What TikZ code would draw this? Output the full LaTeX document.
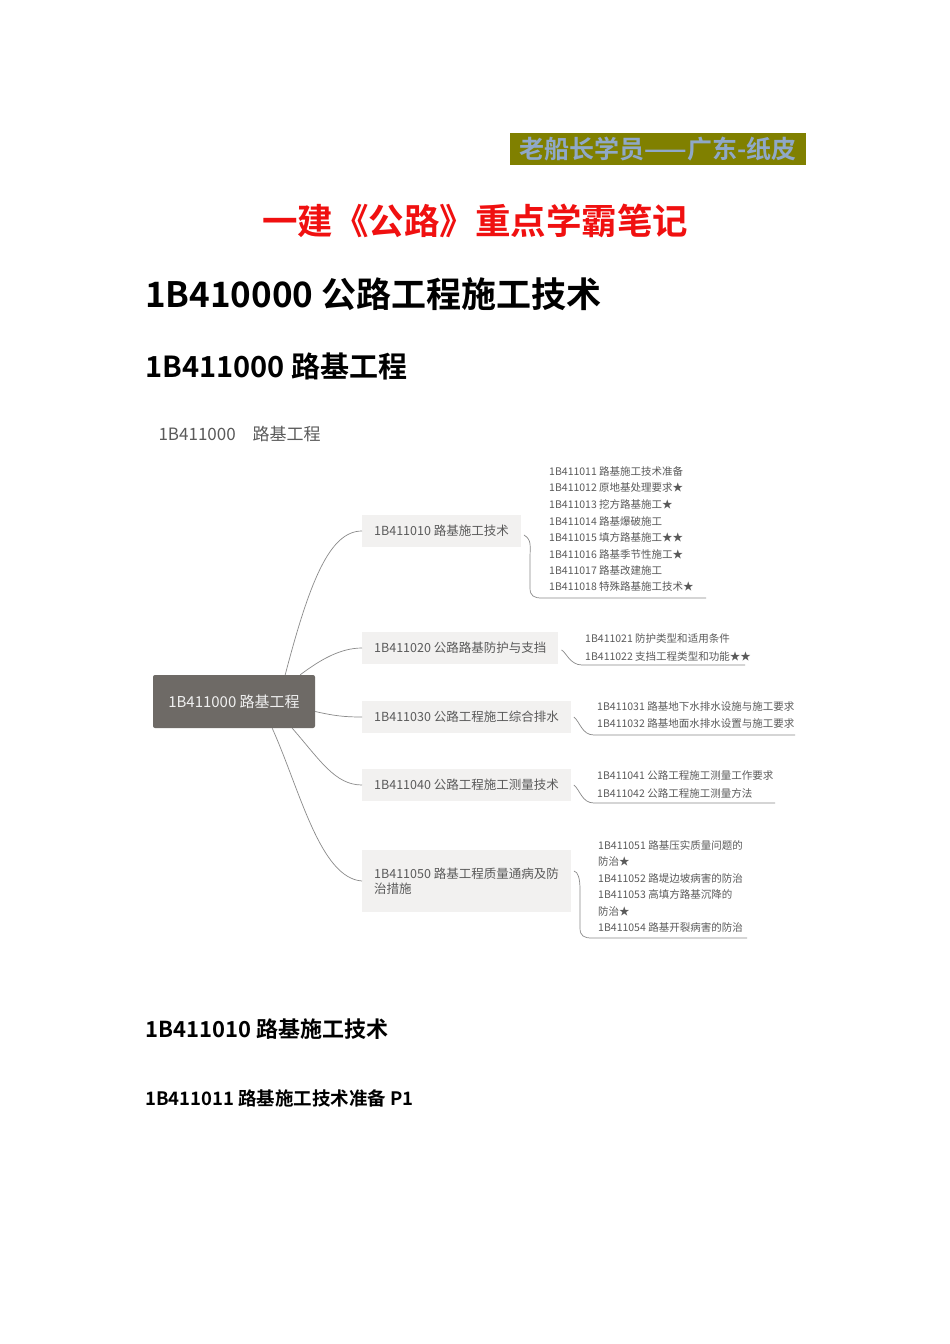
\documentclass[tikz,border=0pt]{standalone}
\usepackage{fontspec}
\setmainfont{Noto Sans CJK SC}
\newfontfamily\cjkb{Noto Sans CJK SC Bold}
\definecolor{olivebg}{HTML}{808000}
\definecolor{hdrtxt}{HTML}{8FA8C8}
\definecolor{titred}{HTML}{F01010}
\definecolor{ctr}{HTML}{6E6A66}
\definecolor{brbg}{HTML}{F2F1F0}
\definecolor{txtg}{HTML}{5A5A5A}
\definecolor{lineg}{HTML}{8A8A8A}
\begin{document}
\begin{tikzpicture}[x=1pt,y=-1pt,
  br/.style={fill=brbg,anchor=west,font=\fontsize{12.5}{15}\selectfont,text=txtg,inner xsep=12pt,minimum height=32pt,align=left},
  leaf/.style={anchor=west,font=\fontsize{10.5}{12}\selectfont,text=txtg,inner sep=0pt},
  conn/.style={draw=lineg,line width=0.7pt},
  heading/.style={anchor=west,font=\cjkb,inner sep=0pt}]
\useasboundingbox[fill=white] (0,0) rectangle (950,1344);
\node[fill=olivebg,text=hdrtxt,font=\cjkb\fontsize{25}{26}\selectfont,inner sep=1pt,minimum width=296pt,minimum height=32pt] (hdr) at (658,149) {老船长学员——广东-纸皮};
\node[text=titred,font=\cjkb\fontsize{35.5}{38}\selectfont] (title) at (475,221) {一建《公路》重点学霸笔记};
\node[heading,font=\cjkb\fontsize{35}{38}\selectfont] (h1) at (145,294) {1B410000 公路工程施工技术};
\node[heading,font=\cjkb\fontsize{29}{32}\selectfont] (h2) at (145,366) {1B411000 路基工程};
\node[anchor=west,text=txtg,font=\fontsize{17}{19}\selectfont] (mt) at (155,434) {1B411000\quad 路基工程};
\node[fill=ctr,text=white!90!ctr,rounded corners=2pt,minimum width=162pt,minimum height=53pt,font=\fontsize{15}{17}\selectfont] (c) at (234,701.5) {1B411000 路基工程};
\node[br,minimum width=158pt] (b1) at (362,531) {1B411010 路基施工技术};
\node[br,minimum width=195pt] (b2) at (362,648) {1B411020 公路路基防护与支挡};
\node[br,minimum width=208pt] (b3) at (362,717) {1B411030 公路工程施工综合排水};
\node[br,minimum width=208pt] (b4) at (362,785) {1B411040 公路工程施工测量技术};
\node[br,minimum width=208pt,minimum height=62pt] (b5) at (362,881) {1B411050 路基工程质量通病及防\\治措施};
\draw[conn] (c.north east)++(-30,0) coordinate (s1) .. controls (310,580) and (330,531) .. (b1.west);
\draw[conn] (c.north east)++(-15,0) coordinate (s2) .. controls (320,660) and (340,648) .. (b2.west);
\draw[conn] (c.east)++(0,10) coordinate (s3) .. controls (335,716) and (345,717) .. (b3.west);
\draw[conn] (c.south east)++(-23,0) coordinate (s4) .. controls (320,760) and (335,785) .. (b4.west);
\draw[conn] (c.south east)++(-43,0) coordinate (s5) .. controls (300,790) and (320,878) .. (b5.west);
\foreach \t [count=\i] in {1B411011 路基施工技术准备,1B411012 原地基处理要求★,1B411013 挖方路基施工★,1B411014 路基爆破施工,1B411015 填方路基施工★★,1B411016 路基季节性施工★,1B411017 路基改建施工,1B411018 特殊路基施工技术★}
  \node[leaf] (l1\i) at (549,{455+16.5*\i}) {\t};
\coordinate (u1) at (706,598);
\draw[conn] (b1.east)++(3,4) .. controls (532,540) and (530,545) .. (530,560) -- (530,588) .. controls (530,596) and (534,598) .. (542,598) -- (u1);
\node[leaf] (l21) at (585,639) {1B411021 防护类型和适用条件};
\node[leaf] (l22) at (585,656) {1B411022 支挡工程类型和功能★★};
\coordinate (u2) at (745,665);
\draw[conn] (b2.east)++(3,2) .. controls (566,652) and (570,665) .. (582,665) -- (u2);
\node[leaf] (l31) at (597,707) {1B411031 路基地下水排水设施与施工要求};
\node[leaf] (l32) at (597,724) {1B411032 路基地面水排水设置与施工要求};
\coordinate (u3) at (795,735);
\draw[conn] (b3.east)++(3,0) .. controls (580,722) and (582,735) .. (594,735) -- (u3);
\node[leaf] (l41) at (597,776) {1B411041 公路工程施工测量工作要求};
\node[leaf] (l42) at (597,793) {1B411042 公路工程施工测量方法};
\coordinate (u4) at (775,803);
\draw[conn] (b4.east)++(3,0) .. controls (580,790) and (582,803) .. (594,803) -- (u4);
\foreach \t [count=\i] in {1B411051 路基压实质量问题的,防治★,1B411052 路堤边坡病害的防治,1B411053 高填方路基沉降的,防治★,1B411054 路基开裂病害的防治}
  \node[leaf] (l5\i) at (598,{828.5+16.5*\i}) {\t};
\coordinate (u5) at (747,938);
\draw[conn] (b5.east)++(3,-10) .. controls (578,872) and (580,878) .. (580,890) -- (580,928) .. controls (580,936) and (584,938) .. (592,938) -- (u5);
\node[heading,font=\cjkb\fontsize{22}{24}\selectfont] (h3) at (145,1029) {1B411010 路基施工技术};
\node[heading,font=\cjkb\fontsize{18.5}{20}\selectfont] (h4) at (145,1098) {1B411011 路基施工技术准备 P1};
\end{tikzpicture}
\end{document}
